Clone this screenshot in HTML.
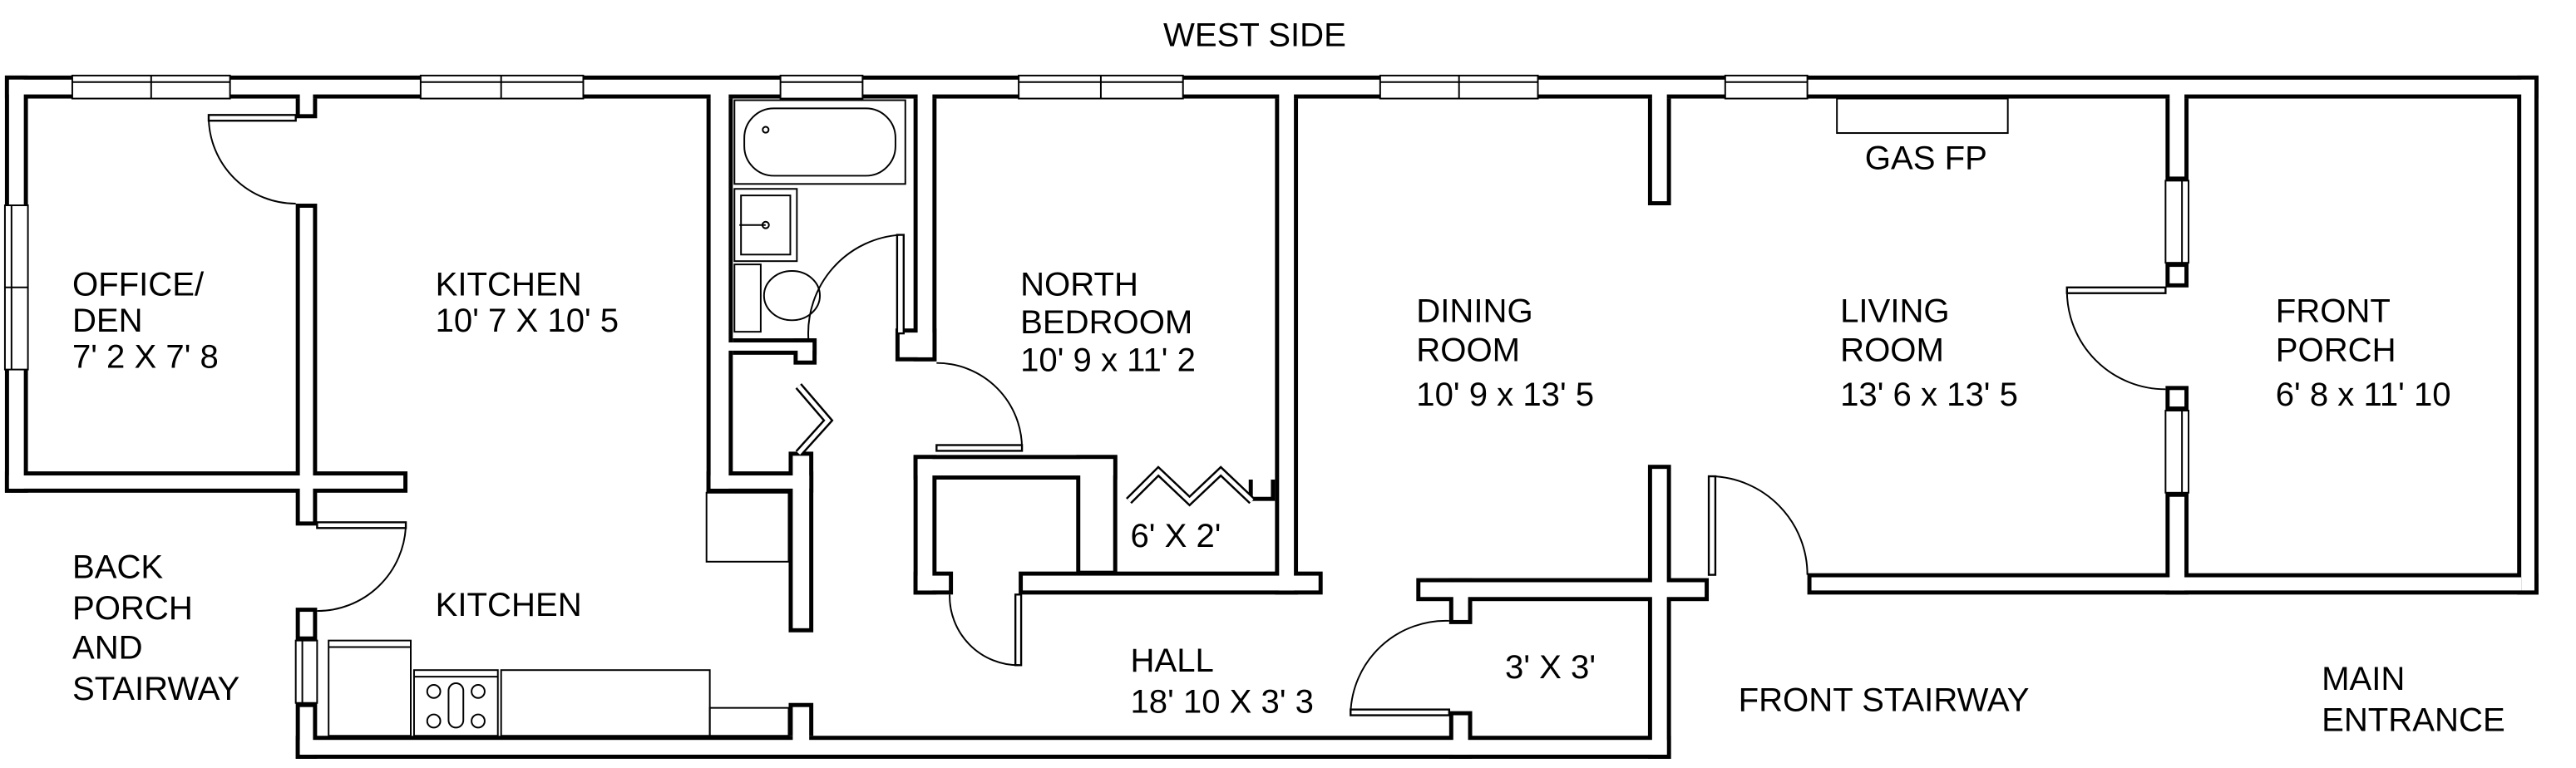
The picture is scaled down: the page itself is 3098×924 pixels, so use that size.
<!DOCTYPE html>
<html><head><meta charset="utf-8"><style>
html,body{margin:0;padding:0;background:#fff;}
svg{display:block;}
text{font-family:"Liberation Sans",sans-serif;font-size:20.3px;fill:#000;}
</style></head><body>
<svg width="3098" height="924" viewBox="0 0 1549 462" xmlns="http://www.w3.org/2000/svg">
<rect width="1549" height="462" fill="#fff"/>
<defs>
<g id="walls">
<rect x="3" y="46" width="1542" height="14"/>
<rect x="3" y="46" width="14" height="254"/>
<rect x="3" y="287" width="245" height="13"/>
<rect x="180" y="124" width="13" height="196"/>
<rect x="180" y="60" width="13" height="12"/>
<rect x="180" y="370" width="13" height="20"/>
<rect x="180" y="428" width="13" height="34"/>
<rect x="180" y="448" width="837" height="14"/>
<rect x="430" y="60" width="16" height="240"/>
<rect x="430" y="287" width="65" height="13"/>
<rect x="480" y="275" width="15" height="110"/>
<rect x="446" y="206" width="51" height="10"/>
<rect x="483" y="206" width="14" height="16"/>
<rect x="480" y="428" width="15" height="20"/>
<rect x="556" y="60" width="14" height="160"/>
<rect x="545" y="200" width="25" height="20"/>
<rect x="556" y="277" width="14" height="85"/>
<rect x="556" y="277" width="124" height="15"/>
<rect x="655" y="277" width="25" height="73"/>
<rect x="760" y="292" width="16" height="13"/>
<rect x="556" y="348" width="24" height="14"/>
<rect x="620" y="348" width="185" height="14"/>
<rect x="776" y="60" width="14" height="302"/>
<rect x="862" y="352" width="178" height="14"/>
<rect x="882" y="352" width="14" height="28"/>
<rect x="882" y="433" width="14" height="29"/>
<rect x="1003" y="60" width="14" height="65"/>
<rect x="1003" y="283" width="14" height="179"/>
<rect x="1100" y="349" width="445" height="13"/>
<rect x="1532" y="46" width="13" height="316"/>
<rect x="1318" y="60" width="14" height="50"/>
<rect x="1318" y="160" width="14" height="15"/>
<rect x="1318" y="235" width="14" height="15"/>
<rect x="1318" y="300" width="14" height="62"/>
</g>
</defs>
<g transform="scale(0.988)">
<use href="#walls" fill="#000"/>
<g fill="#fff">
<rect x="5.5" y="48.5" width="1537" height="9"/>
<rect x="5.5" y="48.5" width="9" height="249"/>
<rect x="5.5" y="289.5" width="240" height="8"/>
<rect x="182.5" y="126.5" width="8" height="191"/>
<rect x="182.5" y="55" width="8" height="14.5"/>
<rect x="182.5" y="372.5" width="8" height="15"/>
<rect x="182.5" y="430.5" width="8" height="29"/>
<rect x="182.5" y="450.5" width="832" height="9"/>
<rect x="432.5" y="55" width="11" height="242.5"/>
<rect x="432.5" y="289.5" width="60" height="8"/>
<rect x="482.5" y="277.5" width="10" height="105"/>
<rect x="443" y="208.5" width="51.5" height="5"/>
<rect x="485.5" y="208.5" width="9" height="11"/>
<rect x="482.5" y="430.5" width="10" height="22"/>
<rect x="558.5" y="55" width="9" height="162.5"/>
<rect x="547.5" y="202.5" width="20" height="15"/>
<rect x="558.5" y="279.5" width="9" height="80"/>
<rect x="558.5" y="279.5" width="119" height="10"/>
<rect x="657.5" y="279.5" width="20" height="68"/>
<rect x="762.5" y="287" width="11" height="15.5"/>
<rect x="558.5" y="350.5" width="19" height="9"/>
<rect x="622.5" y="350.5" width="180" height="9"/>
<rect x="778.5" y="55" width="9" height="304.5"/>
<rect x="864.5" y="354.5" width="173" height="9"/>
<rect x="884.5" y="354.5" width="9" height="23"/>
<rect x="884.5" y="435.5" width="9" height="24"/>
<rect x="1005.5" y="55" width="9" height="67.5"/>
<rect x="1005.5" y="285.5" width="9" height="174"/>
<rect x="1102.5" y="351.5" width="432" height="8"/>
<rect x="1534.5" y="48.5" width="8" height="311"/>
<rect x="1320.5" y="55" width="9" height="52.5"/>
<rect x="1320.5" y="162.5" width="9" height="10"/>
<rect x="1320.5" y="237.5" width="9" height="10"/>
<rect x="1320.5" y="302.5" width="9" height="57"/>
</g>
<g fill="#fff" stroke="#000" stroke-width="1">
<rect x="44" y="46" width="96" height="14"/><line x1="44" y1="50" x2="140" y2="50"/><line x1="92" y1="46" x2="92" y2="60"/>
<rect x="256" y="46" width="99" height="14"/><line x1="256" y1="50" x2="355" y2="50"/><line x1="305" y1="46" x2="305" y2="60"/>
<rect x="475" y="46" width="50" height="14"/><line x1="475" y1="50" x2="525" y2="50"/>
<rect x="620" y="46" width="100" height="14"/><line x1="620" y1="50" x2="720" y2="50"/><line x1="670" y1="46" x2="670" y2="60"/>
<rect x="840" y="46" width="96" height="14"/><line x1="840" y1="50" x2="936" y2="50"/><line x1="888" y1="46" x2="888" y2="60"/>
<rect x="1050" y="46" width="50" height="14"/><line x1="1050" y1="50" x2="1100" y2="50"/>
<rect x="3" y="125" width="14" height="100"/><line x1="7" y1="125" x2="7" y2="225"/><line x1="3" y1="175" x2="17" y2="175"/>
<rect x="180" y="390" width="13" height="38"/><line x1="184" y1="390" x2="184" y2="428"/>
<rect x="1318" y="110" width="14" height="50"/><line x1="1328" y1="110" x2="1328" y2="160"/>
<rect x="1318" y="250" width="14" height="50"/><line x1="1328" y1="250" x2="1328" y2="300"/>
</g>
<g fill="#fff" stroke="#000" stroke-width="1.2">
<rect x="127" y="70" width="53" height="3.5"/>
<rect x="193" y="318" width="54" height="3.5"/>
<rect x="546" y="143" width="4" height="60"/>
<rect x="570" y="271" width="52" height="3.5"/>
<rect x="618" y="362" width="3.5" height="43"/>
<rect x="822" y="432" width="60" height="3.5"/>
<rect x="1040" y="290" width="4" height="60"/>
<rect x="1258" y="175" width="60" height="3.5"/>
</g>
<g fill="none" stroke="#000" stroke-width="1">
<path d="M127 72 A53 53 0 0 0 180 124"/>
<path d="M247 320 A54 54 0 0 1 193 372"/>
<path d="M548 143 A60 60 0 0 0 492 206"/>
<path d="M622 273 A52 52 0 0 0 570 221"/>
<path d="M620 405 A42 42 0 0 1 578 362"/>
<path d="M822 434 A58 58 0 0 1 882 378"/>
<path d="M1042 290 A60 60 0 0 1 1100 350"/>
<path d="M1258 177 A60 60 0 0 0 1318 237"/>
<rect x="447" y="61" width="104" height="51"/>
<rect x="453" y="66" width="92" height="41" rx="18"/>
<circle cx="466" cy="79" r="1.8"/>
<rect x="447" y="115" width="38" height="44"/>
<rect x="451" y="119" width="30" height="36"/>
<line x1="450" y1="137" x2="466" y2="137"/><circle cx="466" cy="137" r="2"/>
<rect x="447" y="161" width="16" height="41"/>
<ellipse cx="482" cy="180" rx="17" ry="15"/>
<rect x="430" y="300" width="50" height="42"/>
<rect x="200" y="390" width="50" height="58"/>
<line x1="200" y1="394" x2="250" y2="394"/>
<rect x="252" y="408" width="51" height="40"/>
<line x1="252" y1="412" x2="303" y2="412"/>
<circle cx="264" cy="421" r="4"/><circle cx="291" cy="421" r="4"/>
<circle cx="264" cy="439" r="4"/><circle cx="291" cy="439" r="4"/>
<rect x="273" y="416" width="9" height="27" rx="4.5"/>
<rect x="305" y="408" width="127" height="40"/>
<rect x="432" y="431" width="48" height="17"/>
<rect x="1118" y="60" width="104" height="21"/>
</g>
<g fill="none" stroke-linejoin="miter">
<polyline points="486,235 504,256 486,276" stroke="#000" stroke-width="5"/>
<polyline points="486,235 504,256 486,276" stroke="#fff" stroke-width="2.5"/>
<polyline points="687,305 705,287 724,305 743,287 762,305" stroke="#000" stroke-width="5"/>
<polyline points="687,305 705,287 724,305 743,287 762,305" stroke="#fff" stroke-width="2.5"/>
</g>
<text x="708" y="28">WEST SIDE</text>
<text x="44" y="180">OFFICE/</text>
<text x="44" y="202">DEN</text>
<text x="44" y="224">7' 2 X 7' 8</text>
<text x="265" y="180">KITCHEN</text>
<text x="265" y="202">10' 7 X 10' 5</text>
<text x="621" y="180">NORTH</text>
<text x="621" y="203">BEDROOM</text>
<text x="621" y="226">10' 9 x 11' 2</text>
<text x="862" y="196">DINING</text>
<text x="862" y="220">ROOM</text>
<text x="862" y="247">10' 9 x 13' 5</text>
<text x="1120" y="196">LIVING</text>
<text x="1120" y="220">ROOM</text>
<text x="1120" y="247">13' 6 x 13' 5</text>
<text x="1385" y="196">FRONT</text>
<text x="1385" y="220">PORCH</text>
<text x="1385" y="247">6' 8 x 11' 10</text>
<text x="1135" y="103">GAS FP</text>
<text x="688" y="333">6' X 2'</text>
<text x="44" y="352">BACK</text>
<text x="44" y="377">PORCH</text>
<text x="44" y="401">AND</text>
<text x="44" y="426">STAIRWAY</text>
<text x="265" y="375">KITCHEN</text>
<text x="688" y="409">HALL</text>
<text x="688" y="434">18' 10 X 3' 3</text>
<text x="916" y="413">3' X 3'</text>
<text x="1058" y="433">FRONT STAIRWAY</text>
<text x="1413" y="420">MAIN</text>
<text x="1413" y="445">ENTRANCE</text>
</g>
</svg>
</body></html>
